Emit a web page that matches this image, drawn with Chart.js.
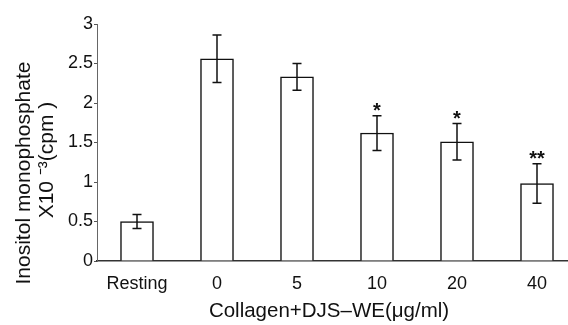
<!DOCTYPE html>
<html>
<head>
<meta charset="utf-8">
<script src="https://cdn.jsdelivr.net/npm/chart.js@4"></script>
<style>
  html, body { margin: 0; padding: 0; background: #fff; overflow: hidden; }
  #wrap { width: 578px; height: 325px; }
</style>
</head>
<body>
<div id="wrap"><canvas id="myChart"></canvas></div>
<script>
(function () {
    const categories = ['Resting', '0', '5', '10', '20', '40'];
    const values = [0.50, 2.56, 2.33, 1.62, 1.51, 0.98];
    const errors = [0.09, 0.30, 0.17, 0.22, 0.23, 0.25];
    const marks = ['', '', '', '*', '*', '**'];
    const yTicks = [0, 0.5, 1, 1.5, 2, 2.5, 3];
    const yTitle = ['Inositol monophosphate', 'X10 \u207B\u00B3(cpm )'];
    const xTitle = 'Collagen+DJS\u2013WE(\u03BCg/ml)';

    const ctx = document.getElementById('myChart');
    const font = '"Liberation Sans", Arial, sans-serif';

    // error bars + significance stars
    const errorBars = {
        id: 'errorBars',
        afterDatasetsDraw(chart) {
            const c = chart.ctx;
            const y = chart.scales.y;
            const meta = chart.getDatasetMeta(0);
            c.save();
            c.strokeStyle = '#111';
            c.lineWidth = 1.5;
            meta.data.forEach((bar, i) => {
                const top = y.getPixelForValue(values[i] + errors[i]);
                const bot = y.getPixelForValue(values[i] - errors[i]);
                c.beginPath();
                c.moveTo(bar.x, top); c.lineTo(bar.x, bot);
                c.moveTo(bar.x - 4.5, top); c.lineTo(bar.x + 4.5, top);
                c.moveTo(bar.x - 4.5, bot); c.lineTo(bar.x + 4.5, bot);
                c.stroke();
                if (marks[i]) {
                    c.fillStyle = '#111';
                    c.font = 'bold 20px ' + font;
                    c.textAlign = 'center';
                    c.textBaseline = 'alphabetic';
                    c.fillText(marks[i], bar.x, top + 1);
                }
            });
            c.restore();
        }
    };

    // axis titles
    const axisTitles = {
        id: 'axisTitles',
        afterDraw(chart) {
            const c = chart.ctx;
            c.save();
            c.fillStyle = '#111';
            c.font = '20.5px ' + font;
            c.textAlign = 'center';
            c.textBaseline = 'middle';
            c.fillText(xTitle, 329, 311);
            c.font = '21px ' + font;
            c.translate(24, 173);
            c.rotate(-Math.PI / 2);
            c.fillText(yTitle[0], 0, 0);
            c.restore();
            c.save();
            c.fillStyle = '#111';
            c.font = '21px ' + font;
            c.textAlign = 'center';
            c.textBaseline = 'middle';
            c.translate(47, 160);
            c.rotate(-Math.PI / 2);
            c.fillText(yTitle[1], 0, 0);
            c.restore();
        }
    };

    const data = {
        labels: categories,
        datasets: [{
            data: values,
            backgroundColor: '#fff',
            borderColor: '#111',
            borderWidth: 1.5,
            barThickness: 33
        }]
    };

    const config = {
        type: 'bar',
        data: data,
        plugins: [errorBars, axisTitles],
        options: {
            responsive: true,
            maintainAspectRatio: false,
            animation: false,
            layout: { padding: { top: 24, right: 1, left: 0, bottom: 0 } },
            scales: {
                x: {
                    grid: { display: false, drawTicks: false },
                    border: { color: '#333', width: 1.5 },
                    ticks: { color: '#111', font: { family: font, size: 18 }, padding: 12 },
                    afterFit(scale) { scale.height = 64; }
                },
                y: {
                    min: 0,
                    max: 3,
                    afterBuildTicks(scale) { scale.ticks = yTicks.map(v => ({ value: v })); },
                    grid: { drawOnChartArea: false, tickLength: 3, color: '#555' },
                    border: { color: '#666', width: 1 },
                    ticks: {
                        color: '#111',
                        font: { family: font, size: 18 },
                        padding: 1,
                        callback: v => String(v)
                    },
                    afterFit(scale) { scale.width = 97; }
                }
            },
            plugins: {
                legend: { display: false },
                tooltip: { enabled: false }
            }
        }
    };

    if (ctx) {
        new Chart(ctx, config);
    }
})();
</script>
</body>
</html>
